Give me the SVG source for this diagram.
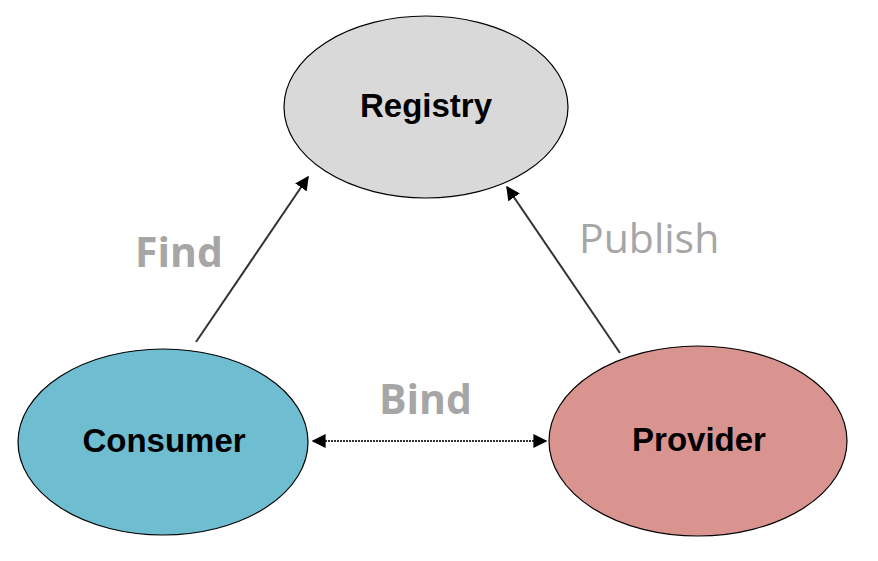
<svg xmlns="http://www.w3.org/2000/svg" width="878" height="561" viewBox="0 0 878 561">
<defs>
<style>
.node{stroke:#000;stroke-width:1.2}
.nlabel{font-family:"Liberation Sans",Arial,sans-serif;font-weight:bold;font-size:33px;fill:#000;text-anchor:middle}
.elabel{font-family:"Open Sans","Noto Sans",sans-serif;font-size:41px;fill:#a6a6a6}
.conn{stroke:#333;stroke-width:2;fill:none}
</style>
<marker id="ah2" viewBox="0 0 10 10" refX="9" refY="5" markerWidth="14" markerHeight="14" orient="auto-start-reverse" markerUnits="userSpaceOnUse">
<path d="M0,0 L10,5 L0,10 z" fill="#000"/>
</marker>
</defs>
<rect width="878" height="561" fill="#fff"/>
<g id="connectors">
<line class="conn" x1="196" y1="342" x2="308" y2="177" marker-end="url(#ah2)"/>
<line class="conn" x1="620" y1="353" x2="507" y2="187" marker-end="url(#ah2)"/>
<line class="conn" x1="313" y1="441" x2="546" y2="441" stroke="#222" stroke-width="2.6" stroke-dasharray="2 1" marker-start="url(#ah2)" marker-end="url(#ah2)"/>
<text class="elabel" x="135" y="267" font-weight="bold">Find</text>
<text class="elabel" x="579" y="253" font-size="42">Publish</text>
<text class="elabel" x="379" y="414" font-weight="bold">Bind</text>
</g>
<g id="registry">
<ellipse class="node" cx="426" cy="107" rx="142" ry="91" fill="#d9d9d9"/>
<text class="nlabel" x="426" y="117">Registry</text>
</g>
<g id="consumer">
<ellipse class="node" cx="163" cy="442" rx="145" ry="93" fill="#6fbdd1"/>
<text class="nlabel" x="164" y="452">Consumer</text>
</g>
<g id="provider">
<ellipse class="node" cx="698" cy="441" rx="149" ry="95" fill="#d99490"/>
<text class="nlabel" x="699" y="451">Provider</text>
</g>
</svg>
